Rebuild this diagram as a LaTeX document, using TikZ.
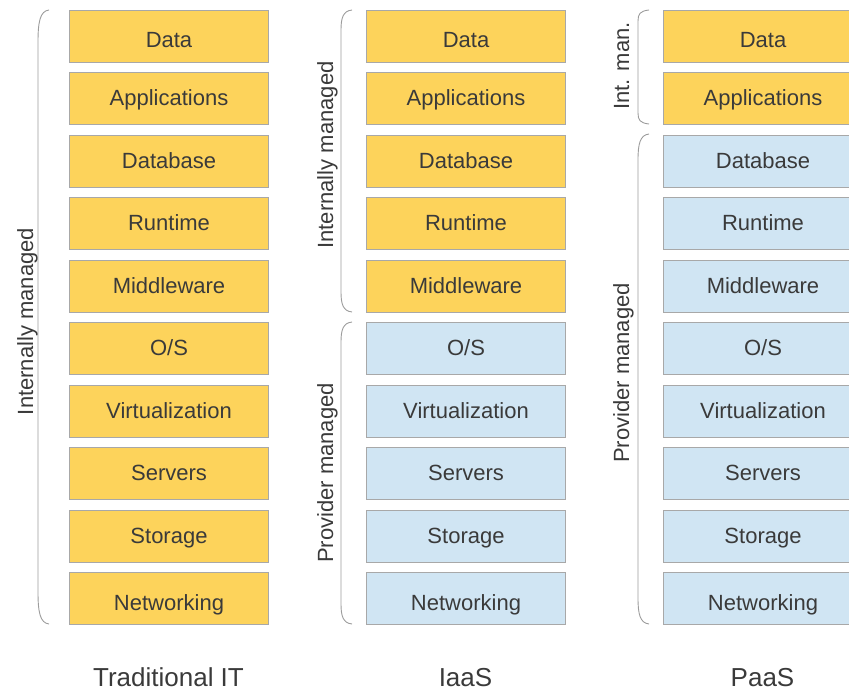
\documentclass[tikz,border=0pt]{standalone}
\usepackage{fontspec}
\setmainfont{Liberation Sans}
\definecolor{ylw}{HTML}{FDD35B}
\definecolor{blu}{HTML}{D0E5F3}
\definecolor{bord}{HTML}{A8A8A8}
\definecolor{txt}{HTML}{3A3A3A}
\definecolor{brc}{HTML}{9C9C9C}
\begin{document}
\begin{tikzpicture}[x=1pt,y=-1pt,
  layerbox/.style={draw=bord, line width=1pt, minimum width=199pt, minimum height=52pt,
    inner sep=0pt, anchor=north west, text=txt, font=\fontsize{22}{22}\selectfont,
    text height=15pt, text depth=1pt},
  lowtext/.style={text height=24pt, text depth=1pt},
  sidelabel/.style={rotate=90, anchor=base, text=txt, inner sep=0pt, font=\fontsize{22}{22}\selectfont},
  collabel/.style={anchor=base, text=txt, inner sep=0pt, font=\fontsize{26}{26}\selectfont},
  bracepath/.style={draw=brc, line width=0.9pt}]
\useasboundingbox (0,0) rectangle (849,690);
\foreach \col/\xx/\ny in {t/69/10, i/366/5, p/663/2}{
  \foreach \lab [count=\i from 0] in {Data,Applications,Database,Runtime,Middleware,O/S,Virtualization,Servers,Storage,Networking}{
    \ifnum\i<\ny\def\fc{ylw}\else\def\fc{blu}\fi
    \ifnum\i=0\def\ts{lowtext}\else\ifnum\i=9\def\ts{lowtext}\else\def\ts{}\fi\fi
    \node[layerbox, fill=\fc, \ts] (\col\i) at (\xx, 10+62.45*\i) {\lab};
  }
}
% braces
\coordinate (b1t) at (49,10); \coordinate (b1b) at (49,624);
\draw[bracepath] (b1t) .. controls (40,11) and (38,22) .. (38,42) -- (38,592) .. controls (38,612) and (40,623) .. (b1b);
\coordinate (b2t) at (352,10); \coordinate (b2b) at (352,312);
\draw[bracepath] (b2t) .. controls (343,11) and (341,18) .. (341,30) -- (341,292) .. controls (341,304) and (343,311) .. (b2b);
\coordinate (b3t) at (352,322); \coordinate (b3b) at (352,624);
\draw[bracepath] (b3t) .. controls (343,323) and (341,330) .. (341,342) -- (341,604) .. controls (341,616) and (343,623) .. (b3b);
\coordinate (b4t) at (649,10); \coordinate (b4b) at (649,124);
\draw[bracepath] (b4t) .. controls (640,11) and (638,14) .. (638,21) -- (638,113) .. controls (638,120) and (640,123) .. (b4b);
\coordinate (b5t) at (649,134); \coordinate (b5b) at (649,624);
\draw[bracepath] (b5t) .. controls (640,135) and (638,144) .. (638,160) -- (638,598) .. controls (638,614) and (640,623) .. (b5b);
% side labels
\node[sidelabel] (l1) at (33,321.5) {Internally managed};
\node[sidelabel] (l2) at (333,155) {Internally managed};
\node[sidelabel] (l3) at (333,473) {Provider managed};
\node[sidelabel] (l4) at (629,66) {Int. man.};
\node[sidelabel] (l5) at (629,373) {Provider managed};
% column labels
\node[collabel] (c1) at (168.5,686) {Traditional IT};
\node[collabel] (c2) at (465.5,686) {IaaS};
\node[collabel] (c3) at (762.5,686) {PaaS};
\end{tikzpicture}
\end{document}
